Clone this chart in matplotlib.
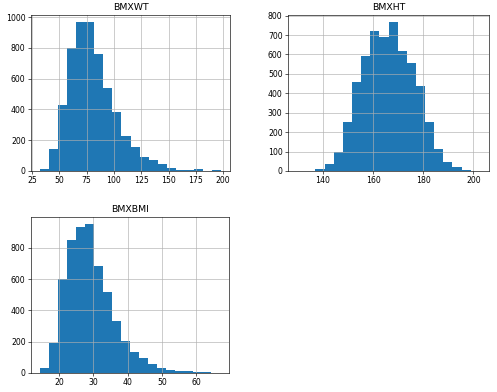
import numpy as np
import matplotlib
matplotlib.use("Agg")
import matplotlib.pyplot as plt

# histogram counts (20 equal-width bins each)
wt_range = (32.4, 198.0)
wt_counts = [15, 145, 430, 800, 965, 965, 760, 540, 385, 230,
             155, 90, 70, 45, 20, 8, 5, 10, 1, 5]

ht_range = (129.7, 202.6)
ht_counts = [1, 1, 10, 35, 100, 250, 460, 590, 720, 690,
             765, 620, 555, 440, 250, 115, 45, 20, 5, 1]

bmi_range = (14.4, 67.1)
bmi_counts = [30, 190, 600, 850, 935, 950, 685, 520, 330, 205,
              135, 95, 60, 35, 20, 15, 15, 5, 5, 1]

panels = [
    ("BMXWT", wt_range, wt_counts),
    ("BMXHT", ht_range, ht_counts),
    ("BMXBMI", bmi_range, bmi_counts),
]

# low dpi so the default font / tick sizes come out like the scaled-down original
DPI = 56
fig = plt.figure(figsize=(497 / DPI, 392 / DPI), dpi=DPI)
boxes = [
    [0.0624, 0.5638, 0.4004, 0.3979],
    [0.5795, 0.5638, 0.4045, 0.3979],
    [0.0624, 0.0485, 0.3990, 0.3979],
]

for (name, rng, counts), box in zip(panels, boxes):
    ax = fig.add_axes(box)
    edges = np.linspace(rng[0], rng[1], len(counts) + 1)
    ax.hist(edges[:-1], bins=edges, weights=counts, color="C0")
    ax.grid(True)
    ax.set_title(name)

fig.savefig("out.png", dpi=DPI)
